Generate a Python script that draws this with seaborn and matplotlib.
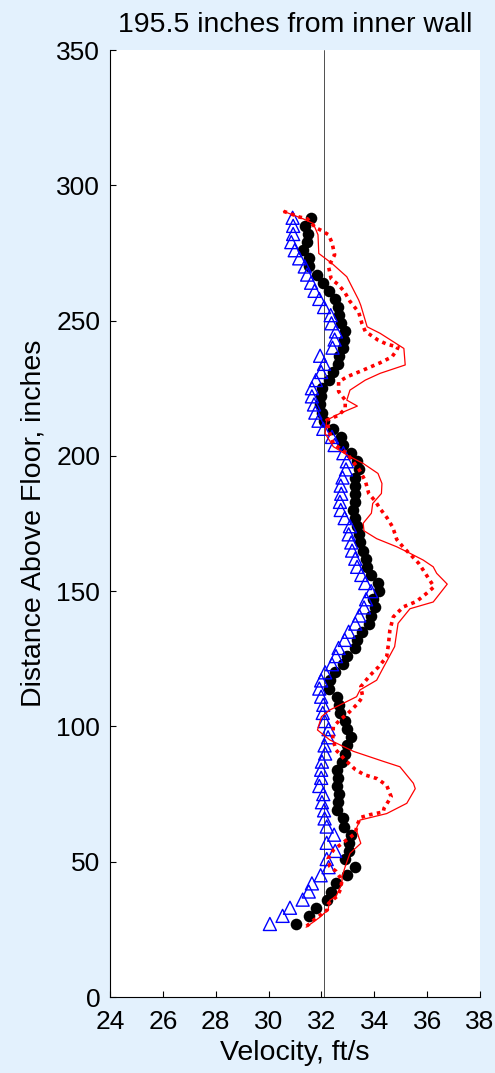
import matplotlib
matplotlib.use("Agg")
import matplotlib.pyplot as plt
import seaborn as sns

# heights of the measurement points, inches above floor
heights = [27, 30, 33, 36, 39, 42, 45, 48, 51, 54, 57, 60, 63, 66, 69, 72,
           75, 78, 81, 84, 87, 90, 93, 96, 99, 102, 105, 108, 111, 114, 117,
           120, 123, 126, 129, 132, 135, 138, 141, 144, 147, 150, 153, 156,
           159, 162, 165, 168, 171, 174, 177, 180, 183, 186, 189, 192, 195,
           198, 201, 204, 207, 210, 213, 216, 219, 222, 225, 228, 231, 234,
           237, 240, 243, 246, 249, 252, 255, 258, 261, 264, 267, 270, 273,
           276, 279, 282, 285, 288]

# black dots
vel_dots = [31.04, 31.52, 31.79, 32.21, 32.35, 32.55, 32.96, 33.26, 32.89, 33.03,
            33.04, 33.12, 32.85, 32.82, 32.58, 32.61, 32.65, 32.58, 32.63, 32.58,
            32.78, 32.90, 32.98, 33.11, 32.98, 32.90, 32.70, 32.65, 32.58, 32.30,
            32.32, 32.50, 32.83, 32.96, 33.28, 33.36, 33.53, 33.81, 33.88, 34.04,
            33.96, 34.17, 34.14, 33.86, 33.71, 33.70, 33.56, 33.46, 33.41, 33.33,
            33.28, 33.18, 33.28, 33.28, 33.28, 33.28, 33.43, 33.33, 33.11, 32.83,
            32.75, 32.45, 32.10, 32.02, 31.95, 31.97, 32.02, 32.27, 32.42, 32.63,
            32.65, 32.82, 32.85, 32.88, 32.75, 32.65, 32.63, 32.50, 32.27, 32.07,
            31.82, 31.54, 31.54, 31.31, 31.46, 31.51, 31.39, 31.59]

# open blue triangles
vel_tri = [30.05, 30.53, 30.81, 31.29, 31.52, 31.64, 31.97, 32.27, 32.20, 32.52,
           32.20, 32.48, 32.20, 32.12, 32.10, 32.02, 32.07, 31.92, 31.99, 31.99,
           32.02, 32.14, 32.12, 32.25, 32.27, 32.12, 32.05, 32.07, 31.99, 31.92,
           31.99, 32.14, 32.40, 32.55, 32.65, 32.88, 33.03, 33.28, 33.43, 33.61,
           33.69, 33.88, 33.66, 33.51, 33.35, 33.28, 33.16, 33.13, 33.03, 33.08,
           32.88, 32.73, 32.70, 32.75, 32.73, 32.80, 32.93, 32.96, 32.83, 32.50,
           32.40, 32.07, 31.89, 31.77, 31.72, 31.64, 31.64, 31.79, 31.99, 32.10,
           31.95, 32.42, 32.50, 32.55, 32.38, 32.35, 32.10, 31.92, 31.74, 31.61,
           31.46, 31.37, 31.16, 30.99, 30.86, 30.93, 30.93, 30.91]

# red dotted curve
dot_y = [26.2, 28.9, 32.2, 34.6, 37.3, 39.8, 43.2, 46.5, 48.2, 51.1, 54.3, 57.3,
         60.5, 63.9, 66.4, 67.4, 68.4, 69.8, 74.0, 78.2, 80.7, 82.2, 84.1, 87.6,
         91.3, 95.5, 99.9, 102.4, 104.8, 108.5, 111.0, 114.7, 118.9, 122.1, 125.8,
         130.7, 135.6, 140.5, 144.2, 146.2, 149.2, 151.6, 157.8, 160.3, 163.2,
         166.2, 169.1, 173.6, 177.0, 180.5, 183.2, 186.1, 190.8, 195.2, 200.9,
         204.6, 208.8, 213.2, 215.0, 217.4, 220.6, 223.8, 227.3, 229.2, 231.7,
         234.4, 236.6, 239.1, 240.2, 241.3, 242.8, 246.0, 249.0, 253.1, 257.1,
         260.5, 263.2, 265.4, 269.9, 274.3, 278.8, 281.7, 283.2, 284.4, 287.6,
         288.4, 289.4, 290.4]
dot_v = [31.44, 31.77, 32.22, 32.27, 32.60, 32.72, 32.78, 32.55, 32.32, 32.25, 32.45,
         32.85, 33.28, 33.36, 33.49, 33.84, 34.34, 34.37, 34.64, 34.47, 34.11, 33.61,
         33.28, 32.90, 32.55, 32.43, 32.45, 32.70, 33.00, 33.38, 33.56, 33.49, 33.84,
         34.17, 34.47, 34.54, 34.59, 34.72, 35.10, 35.60, 35.98, 36.26, 35.85, 35.68,
         35.40, 35.10, 34.85, 34.70, 34.49, 34.22, 34.04, 33.79, 33.66, 33.41, 32.96,
         32.45, 32.30, 32.20, 32.65, 32.90, 32.90, 32.65, 32.65, 32.96, 33.58, 34.22,
         34.67, 34.85, 34.90, 34.47, 34.14, 33.66, 33.53, 33.41, 33.08, 32.88, 32.65,
         32.37, 32.27, 32.50, 32.40, 32.27, 32.02, 31.77, 31.47, 31.11, 30.86, 30.56]

# thin red solid curve
sol_y = [25.8, 29.2, 32.2, 35.8, 37.1, 42.0, 44.5, 48.2, 53.1, 56.8, 62.0, 65.4,
         67.8, 70.3, 71.6, 77.0, 79.0, 85.1, 87.1, 90.8, 95.0, 98.7, 103.6, 106.1,
         111.0, 113.5, 117.1, 120.8, 129.5, 138.1, 143.5, 146.0, 152.6, 156.6,
         159.0, 161.5, 164.0, 166.4, 169.4, 172.3, 175.1, 178.8, 182.4, 186.1,
         189.8, 193.5, 197.2, 199.7, 203.4, 208.3, 213.2, 215.7, 218.4, 220.6,
         224.3, 228.0, 230.5, 233.6, 239.7, 245.3, 247.7, 255.6, 257.6, 266.2,
         271.1, 274.8, 281.7, 285.9, 287.6, 290.4]
sol_v = [31.42, 31.90, 32.25, 32.32, 32.55, 32.78, 32.78, 32.90, 33.08, 33.49, 33.31,
         33.46, 34.47, 34.97, 35.23, 35.55, 35.48, 34.97, 34.34, 33.21, 32.32, 31.85,
         32.00, 32.32, 33.33, 33.46, 34.09, 34.29, 34.77, 34.90, 35.35, 36.23, 36.76,
         36.36, 36.23, 35.85, 35.35, 34.85, 34.09, 33.61, 33.58, 33.89, 33.94, 34.27,
         34.29, 34.14, 33.58, 33.08, 32.45, 32.14, 32.20, 32.70, 33.36, 32.96, 33.08,
         33.66, 34.22, 35.17, 35.12, 34.22, 33.73, 33.49, 33.41, 32.96, 32.40, 31.90,
         31.87, 31.69, 31.31, 30.56]

ref_vel = 32.1

sns.set_style("white")
plt.rcParams['font.family'] = ['Liberation Sans', 'DejaVu Sans']
plt.rcParams['text.color'] = 'black'
plt.rcParams['axes.labelcolor'] = 'black'

bg = '#E3F1FD'
fig = plt.figure(figsize=(4.95, 10.73), dpi=100, facecolor=bg)
ax = fig.add_axes([0.2222, 0.0708, 0.7475, 0.8826])
ax.set_facecolor('white')

ax.axvline(ref_vel, color='#333333', lw=0.6, zorder=1)

sns.scatterplot(x=vel_dots, y=heights, color='black', s=70, linewidth=0,
                ax=ax, zorder=3)
sns.scatterplot(x=vel_tri, y=heights, marker='^', s=88, facecolor='none',
                edgecolor='blue', linewidth=1.0, ax=ax, zorder=4)
sns.lineplot(x=sol_v, y=sol_y, sort=False, estimator=None, color='red',
             lw=0.9, ax=ax, zorder=5)
sns.lineplot(x=dot_v, y=dot_y, sort=False, estimator=None, color='red',
             lw=2.6, linestyle=(0, (1, 1.2)), ax=ax, zorder=6)

ax.set_xlim(24, 38)
ax.set_ylim(0, 350)
ax.set_xticks(range(24, 39, 2))
ax.set_yticks(range(0, 351, 50))
for s in ['top', 'right']:
    ax.spines[s].set_visible(False)
for s in ['left', 'bottom']:
    ax.spines[s].set_color('black')
    ax.spines[s].set_linewidth(0.8)
ax.tick_params(direction='in', length=4, width=0.8, labelsize=19,
               colors='black', bottom=True, left=True)
ax.tick_params(axis='x', pad=9)
ax.tick_params(axis='y', pad=7)

ax.set_title('195.5 inches from inner wall', fontsize=20.5, pad=13,
             color='black')
ax.set_xlabel('Velocity, ft/s', fontsize=20.5, labelpad=5, color='black')
ax.set_ylabel('Distance Above Floor, inches', fontsize=20.5, labelpad=7,
              color='black')

fig.savefig('out.png', dpi=100, facecolor=bg)
